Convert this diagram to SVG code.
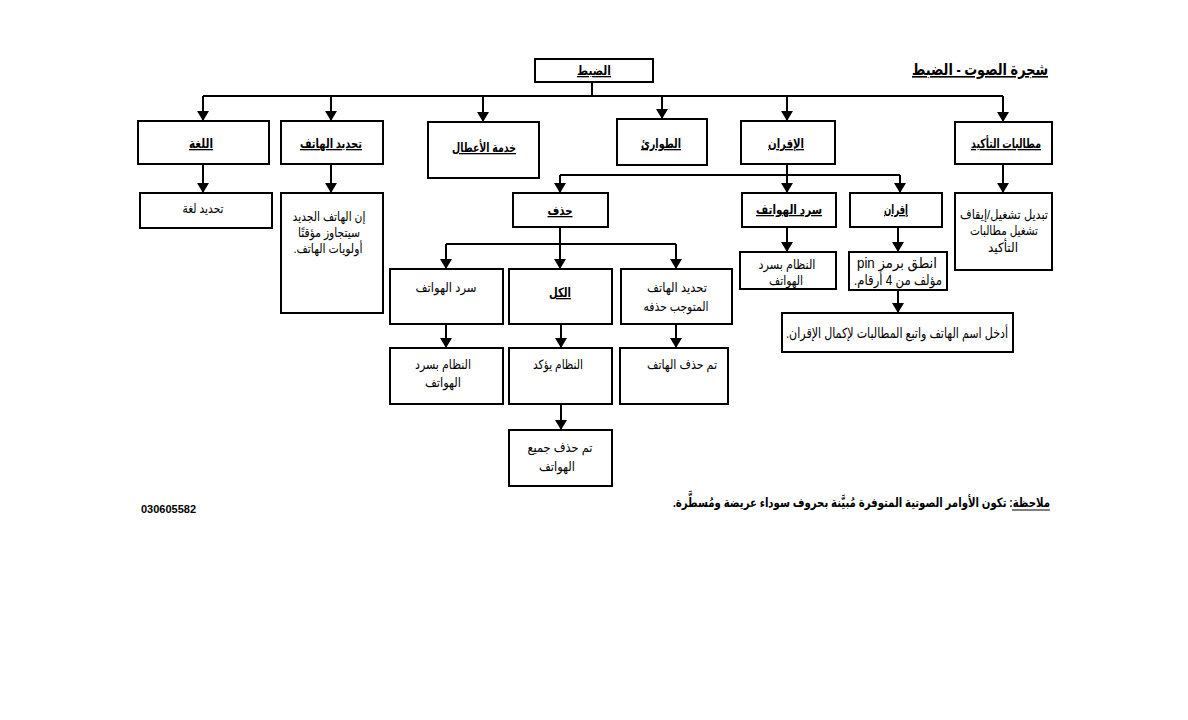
<svg xmlns="http://www.w3.org/2000/svg" width="1188" height="720" viewBox="0 0 1188 720">
<defs>
<marker id="arr" viewBox="0 0 10 12" refX="10" refY="6" markerWidth="10" markerHeight="12" markerUnits="userSpaceOnUse" orient="auto">
<path d="M0,0 L10,6 L0,12 Z" fill="#000"/>
</marker>
<style>
.box{fill:#fff;stroke:#000;stroke-width:2}
.ln{fill:none;stroke:#000;stroke-width:2}
.ar{fill:none;stroke:#000;stroke-width:2;marker-end:url(#arr)}
text{font-family:"Liberation Sans","DejaVu Sans",sans-serif;font-size:13px;fill:#000;direction:rtl}
.b{font-weight:bold;text-decoration:underline}
.c{text-anchor:middle}
.f{font-weight:bold;direction:ltr;text-anchor:end}
</style>
</defs>
<rect width="1188" height="720" fill="#fff"/>
<text x="1048" y="75" style="font-size:16px;font-weight:bold;text-decoration:underline;text-anchor:start" textLength="136" lengthAdjust="spacingAndGlyphs">شجرة الصوت - الضبط</text>

<g id="connectors">
<path class="ln" d="M592,82 V96 M203,96 H1003"/>
<path class="ar" d="M203,96 V121"/>
<path class="ar" d="M331,96 V121"/>
<path class="ar" d="M483,96 V122"/>
<path class="ar" d="M662,96 V119"/>
<path class="ar" d="M787,96 V121"/>
<path class="ar" d="M1003,96 V122"/>
<path class="ar" d="M203,164 V193"/>
<path class="ar" d="M331,164 V193"/>
<path class="ar" d="M1003,164 V193"/>
<path class="ar" d="M787,164 V193"/>
<path class="ln" d="M560,175 H900"/>
<path class="ar" d="M560,175 V193"/>
<path class="ar" d="M900,175 V193"/>
<path class="ar" d="M787,227 V252"/>
<path class="ar" d="M898,227 V252"/>
<path class="ar" d="M898,290 V313"/>
<path class="ln" d="M560,227 V244 M446,244 H676"/>
<path class="ar" d="M446,244 V269"/>
<path class="ar" d="M560,244 V269"/>
<path class="ar" d="M676,244 V269"/>
<path class="ar" d="M446,324 V348"/>
<path class="ar" d="M561,324 V348"/>
<path class="ar" d="M676,324 V348"/>
<path class="ar" d="M561,404 V430"/>
</g>

<g id="root"><rect class="box" x="535" y="59" width="118" height="23"/><text class="b c" x="594" y="75" textLength="34" lengthAdjust="spacingAndGlyphs">الضبط</text></g>
<g id="lugha"><rect class="box" x="138" y="121" width="131" height="43"/><text class="b c" x="201" y="148" textLength="24" lengthAdjust="spacingAndGlyphs">اللغة</text></g>
<g id="tahdid"><rect class="box" x="281" y="121" width="102" height="43"/><text class="b c" x="331" y="148" textLength="62" lengthAdjust="spacingAndGlyphs">تحديد الهاتف</text></g>
<g id="khidma"><rect class="box" x="428" y="122" width="111" height="56"/><text class="b c" x="484" y="152" textLength="64" lengthAdjust="spacingAndGlyphs">خدمة الأعطال</text></g>
<g id="tawari"><rect class="box" x="617" y="119" width="90" height="46"/><text class="b c" x="661" y="148" textLength="40" lengthAdjust="spacingAndGlyphs">الطوارئ</text></g>
<g id="iqran"><rect class="box" x="741" y="121" width="94" height="43"/><text class="b c" x="786" y="148" textLength="36" lengthAdjust="spacingAndGlyphs">الإقران</text></g>
<g id="takid"><rect class="box" x="955" y="122" width="97" height="42"/><text class="b c" x="1006" y="148" textLength="70" lengthAdjust="spacingAndGlyphs">مطالبات التأكيد</text></g>

<g id="tahdid-lugha"><rect class="box" x="140" y="193" width="132" height="35"/><text class="c" x="203" y="213" textLength="41" lengthAdjust="spacingAndGlyphs">تحديد لغة</text></g>
<g id="tahdid-desc"><rect class="box" x="281" y="193" width="102" height="120"/>
<text class="c" x="329" y="221" textLength="73" lengthAdjust="spacingAndGlyphs">إن الهاتف الجديد</text>
<text class="c" x="329" y="237" textLength="62" lengthAdjust="spacingAndGlyphs">سيتجاوز مؤقتًا</text>
<text class="c" x="328" y="253" textLength="69" lengthAdjust="spacingAndGlyphs">أولويات الهاتف.</text></g>

<g id="hadhf"><rect class="box" x="513" y="193" width="95" height="34"/><text class="b c" x="560" y="215" textLength="25" lengthAdjust="spacingAndGlyphs">حذف</text></g>
<g id="sard"><rect class="box" x="742" y="193" width="94" height="34"/><text class="b c" x="789" y="214" textLength="66" lengthAdjust="spacingAndGlyphs">سرد الهواتف</text></g>
<g id="iqran2"><rect class="box" x="850" y="193" width="92" height="34"/><text class="b c" x="896" y="214" textLength="24" lengthAdjust="spacingAndGlyphs">إقران</text></g>
<g id="takid-desc"><rect class="box" x="955" y="193" width="97" height="77"/>
<text class="c" x="1004" y="219" textLength="88" lengthAdjust="spacingAndGlyphs">تبديل تشغيل/إيقاف</text>
<text class="c" x="1004" y="235" textLength="68" lengthAdjust="spacingAndGlyphs">تشغيل مطالبات</text>
<text class="c" x="1003" y="252" textLength="30" lengthAdjust="spacingAndGlyphs">التأكيد</text></g>

<g id="sard-desc"><rect class="box" x="740" y="252" width="96" height="37"/>
<text class="c" x="787" y="269" textLength="57" lengthAdjust="spacingAndGlyphs">النظام بسرد</text>
<text class="c" x="786" y="285" textLength="34" lengthAdjust="spacingAndGlyphs">الهواتف</text></g>
<g id="pin"><rect class="box" x="849" y="252" width="98" height="38"/>
<text class="c" x="897" y="268" style="font-size:15px" textLength="80" lengthAdjust="spacingAndGlyphs">انطق برمز pin</text>
<text class="c" x="898" y="285" style="font-size:14px" textLength="88" lengthAdjust="spacingAndGlyphs">مؤلف من 4 أرقام.</text></g>
<g id="enter"><rect class="box" x="782" y="313" width="231" height="39"/>
<text class="c" x="897" y="338" style="font-size:14px" textLength="222" lengthAdjust="spacingAndGlyphs">أدخل اسم الهاتف واتبع المطالبات لإكمال الإقران.</text></g>

<g id="del-sard"><rect class="box" x="390" y="269" width="113" height="55"/><text class="c" x="446" y="292" textLength="61" lengthAdjust="spacingAndGlyphs">سرد الهواتف</text></g>
<g id="del-all"><rect class="box" x="509" y="269" width="103" height="55"/><text class="b c" x="560" y="297" textLength="22" lengthAdjust="spacingAndGlyphs">الكل</text></g>
<g id="del-one"><rect class="box" x="621" y="269" width="111" height="55"/>
<text class="c" x="677" y="292" textLength="60" lengthAdjust="spacingAndGlyphs">تحديد الهاتف</text>
<text class="c" x="676" y="311" textLength="65" lengthAdjust="spacingAndGlyphs">المتوجب حذفه</text></g>

<g id="del-sard-r"><rect class="box" x="390" y="348" width="113" height="56"/>
<text class="c" x="443" y="369" textLength="56" lengthAdjust="spacingAndGlyphs">النظام بسرد</text>
<text class="c" x="443" y="387" textLength="36" lengthAdjust="spacingAndGlyphs">الهواتف</text></g>
<g id="del-all-r"><rect class="box" x="509" y="348" width="103" height="56"/><text class="c" x="558" y="369" textLength="50" lengthAdjust="spacingAndGlyphs">النظام يؤكد</text></g>
<g id="del-one-r"><rect class="box" x="620" y="348" width="108" height="56"/><text class="c" x="682" y="369" textLength="70" lengthAdjust="spacingAndGlyphs">تم حذف الهاتف</text></g>
<g id="del-all-done"><rect class="box" x="509" y="430" width="103" height="56"/>
<text class="c" x="560" y="452" textLength="65" lengthAdjust="spacingAndGlyphs">تم حذف جميع</text>
<text class="c" x="557" y="471" textLength="36" lengthAdjust="spacingAndGlyphs">الهواتف</text></g>

<text class="f" x="1050" y="507" textLength="377" lengthAdjust="spacingAndGlyphs">&#x202B;ملاحظة: تكون الأوامر الصوتية المتوفرة مُبيَّنة بحروف سوداء عريضة ومُسطَّرة.&#x202C;</text>
<line x1="1012" y1="510" x2="1050" y2="510" stroke="#000" stroke-width="1.2"/>
<text x="141" y="513" style="font-weight:bold;font-size:11px;direction:ltr">030605582</text>
</svg>
